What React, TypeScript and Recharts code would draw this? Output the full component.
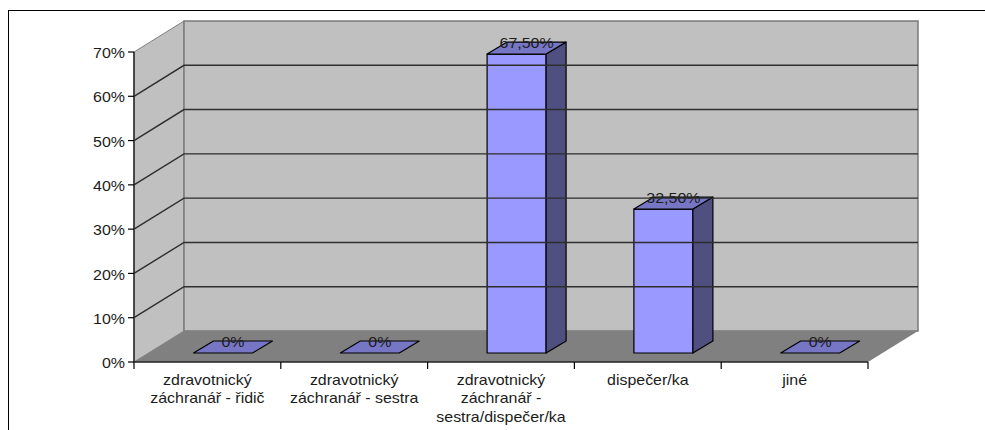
import React from "react";
import { BarChart, Bar, XAxis, YAxis, ReferenceArea, ReferenceLine } from "recharts";

const categories = [
  ["zdravotnický", "záchranář - řidič"],
  ["zdravotnický", "záchranář - sestra"],
  ["zdravotnický", "záchranář -", "sestra/dispečer/ka"],
  ["dispečer/ka"],
  ["jiné"],
];
const values = [0, 0, 67.5, 32.5, 0];
const valueLabels = ["0%", "0%", "67,50%", "32,50%", "0%"];
const yTicks = [0, 10, 20, 30, 40, 50, 60, 70];

const rows = categories.map((lines, i) => ({ id: i, lines, value: values[i], label: valueLabels[i] }));

// Projection of the pseudo-3D box: full depth of the room and depth of a bar.
const ROOM_DX = 50;
const ROOM_DY = -31;
const BAR_DX = 20;
const BAR_DY = -12;
const BAR_SHIFT_X = 15.5;
const BAR_SHIFT_Y = -9;
const BAR_WIDTH = 59;
const PLOT_W = 734;
const BAND = PLOT_W / categories.length;
const FONT = "'Liberation Sans', Arial, sans-serif";
const TEXT_STRETCH = 1.14;
const INK = "#1c1c1c";
const AXIS_TICK_GAP = 8;

const pts = (list: number[][]) => list.map((p) => p.join(",")).join(" ");

function StretchedText({ x, y, anchor, children }: any) {
  return (
    <text
      transform={`translate(${x},${y + 1}) scale(${TEXT_STRETCH},1)`}
      textAnchor={anchor}
      fontFamily={FONT}
      fontSize={14}
      fill={INK}
      dominantBaseline="central"
    >
      {children}
    </text>
  );
}

// Side wall, back wall and floor of the room, with the two front axis lines.
function Room({ x, y, width, height }: any) {
  const bottom = y + height;
  return (
    <g>
      <polygon
        points={pts([[x, y], [x + ROOM_DX, y + ROOM_DY], [x + ROOM_DX, bottom + ROOM_DY], [x, bottom]])}
        fill="#c0c0c0"
        stroke="#808080"
        strokeWidth={1}
      />
      <rect
        x={x + ROOM_DX}
        y={y + ROOM_DY}
        width={width}
        height={height}
        fill="#c0c0c0"
        stroke="#7a7a7a"
        strokeWidth={1.5}
      />
      <polygon
        points={pts([[x, bottom], [x + ROOM_DX, bottom + ROOM_DY], [x + ROOM_DX + width, bottom + ROOM_DY], [x + width, bottom]])}
        fill="#808080"
      />
      <line x1={x} x2={x} y1={y} y2={bottom} stroke="#111" strokeWidth={1.3} />
      <line x1={x} x2={x + width} y1={bottom} y2={bottom} stroke="#222" strokeWidth={1.5} />
    </g>
  );
}

// A gridline runs up the side wall and then across the back wall.
function RoomGridLine({ x1, y1, x2, y2 }: any) {
  return (
    <polyline
      points={pts([[x1, y1], [x1 + ROOM_DX, y1 + ROOM_DY], [x2 + ROOM_DX, y2 + ROOM_DY]])}
      fill="none"
      stroke="#2e2e2e"
      strokeWidth={1.4}
    />
  );
}

function Bar3D({ x, y, width, height, payload }: any) {
  const left = x + BAR_SHIFT_X;
  const right = left + width;
  const top = y + BAR_SHIFT_Y;
  const bottom = top + height;
  return (
    <g stroke="#000" strokeWidth={1.2} strokeLinejoin="round">
      {height > 0 && <rect x={left} y={top} width={width} height={height} fill="#9999ff" />}
      {height > 0 && (
        <polygon
          points={pts([[right, top], [right + BAR_DX, top + BAR_DY], [right + BAR_DX, bottom + BAR_DY], [right, bottom]])}
          fill="#4f4f80"
        />
      )}
      <polygon
        points={pts([[left, top], [left + BAR_DX, top + BAR_DY], [right + BAR_DX, top + BAR_DY], [right, top]])}
        fill="#7676c4"
      />
      <g stroke="none">
        <StretchedText x={left + width / 2 + BAR_DX / 2} y={top + BAR_DY} anchor="middle">
          {payload.label}
        </StretchedText>
      </g>
    </g>
  );
}

function YTick({ x, y, payload }: any) {
  return (
    <g>
      <line x1={x} x2={x + 6} y1={y} y2={y} stroke="#000" strokeWidth={1.2} />
      <StretchedText x={x - 3} y={y} anchor="end">{`${payload.value}%`}</StretchedText>
    </g>
  );
}

function XTick({ x, y, payload, index }: any) {
  const lines = categories[payload.value] || [];
  const last = index === categories.length - 1;
  const y0 = y - AXIS_TICK_GAP;
  return (
    <g>
      <line x1={x - BAND / 2} x2={x - BAND / 2} y1={y0} y2={y0 + 7} stroke="#000" strokeWidth={1.2} />
      {last && <line x1={x + BAND / 2} x2={x + BAND / 2} y1={y0} y2={y0 + 7} stroke="#000" strokeWidth={1.2} />}
      {lines.map((line: string, i: number) => (
        <StretchedText key={i} x={x} y={y0 + 17 + i * 18.2} anchor="middle">
          {line}
        </StretchedText>
      ))}
    </g>
  );
}

export default function App() {
  return (
    <div style={{ position: "absolute", left: 0, top: 0, width: 985, height: 430, background: "#fff", overflow: "hidden" }}>
      <div
        style={{
          position: "absolute",
          left: 8,
          top: 10,
          right: -4,
          bottom: -4,
          borderTop: "1.5px solid #000",
          borderLeft: "1.5px solid #000",
        }}
      />
      <div style={{ position: "absolute", left: 0, top: 0 }}>
        <BarChart
          width={985}
          height={430}
          data={rows}
          margin={{ top: 52, right: 117, bottom: 0, left: 74 }}
          barSize={BAR_WIDTH}
        >
          <ReferenceArea y1={0} y2={70} shape={<Room />} ifOverflow="visible" />
          {yTicks.slice(1, -1).map((t) => (
            <ReferenceLine key={t} y={t} shape={<RoomGridLine />} ifOverflow="visible" />
          ))}
          <XAxis
            dataKey="id"
            type="category"
            height={68}
            axisLine={false}
            tickLine={false}
            tick={<XTick />}
            interval={0}
          />
          <YAxis
            width={60}
            domain={[0, 70]}
            ticks={yTicks}
            axisLine={false}
            tickLine={false}
            tick={<YTick />}
            tickMargin={0}
            tickSize={6}
            interval={0}
          />
          <Bar dataKey="value" isAnimationActive={false} shape={<Bar3D />} />
        </BarChart>
      </div>
    </div>
  );
}
